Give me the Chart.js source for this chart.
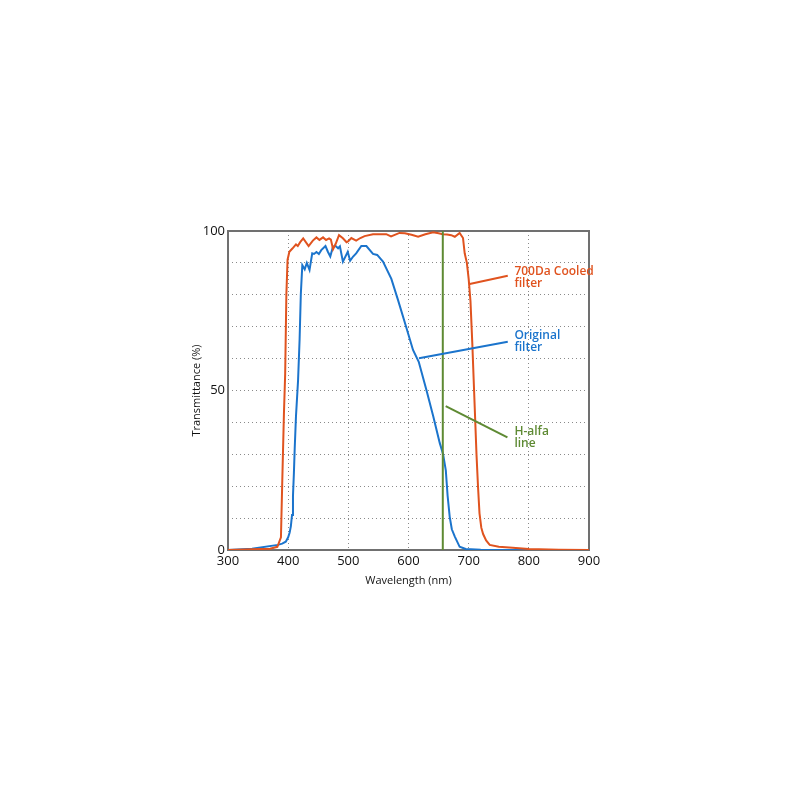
<!DOCTYPE html>
<html>
<head>
<meta charset="utf-8">
<title>Filter transmittance</title>
<script src="https://cdn.jsdelivr.net/npm/chart.js@4.4.1/dist/chart.umd.min.js"></script>
<style>
    body { margin: 0; background: #ffffff; overflow: hidden; }
    #wrap { width: 800px; height: 800px; }
</style>
</head>
<body>
<div id="wrap"><canvas id="filterChart" width="800" height="800"></canvas></div>
<script>
// Dados (nm, %)
const cooledNm = [300, 340, 370, 382, 388, 390, 393, 395, 397, 399, 402, 407, 413, 416, 420, 425, 434, 441, 447, 452,
    458, 463, 468, 471, 474.6, 479, 484.5, 491, 497, 500, 505, 513, 520, 527, 541, 555, 563, 571, 585, 594,
    605, 616, 628, 641, 650, 657, 664, 671, 677, 685, 690.6, 693.4, 697, 700, 703, 706, 709, 711, 713, 715.5,
    718, 721, 724, 729, 735, 750, 773, 800, 850, 900];
const cooledT = [0, 0.2, 0.4, 1, 4, 20, 43, 55, 80, 91, 93.5, 94.5, 95.8, 95.3, 96.5, 97.7, 95.3, 97, 98, 97.2,
    98, 97.2, 97.7, 97.3, 94.3, 96, 98.7, 97.7, 96.5, 96.8, 97.8, 97, 97.8, 98.4, 99, 99, 99, 98.3, 99.4, 99.3,
    98.8, 98.2, 99, 99.6, 99.3, 99, 98.9, 98.7, 98.2, 99.4, 97.8, 93, 90, 85, 78, 65, 50, 40, 30, 20,
    11.5, 7, 5, 3, 1.6, 1, 0.7, 0.3, 0.1, 0];

const originalNm = [300, 340, 383, 390, 396, 400, 402.5, 404.5, 406.4, 408, 409.5, 410.9, 413, 416.4, 419, 421, 423.5, 427.5, 431, 435.5, 440,
    443, 447, 451, 455, 462, 466, 470, 474.5, 479, 483, 486, 491, 499, 503, 508, 513, 521.6, 530, 541, 548,
    557.6, 571.5, 582.5, 596, 607.5, 617, 630, 641, 652, 657.5, 662, 665, 668.5, 672, 677, 685, 695, 720, 900];
const originalT = [0, 0.4, 1.6, 2, 2.6, 4, 5.5, 7.5, 11, 17, 24, 32, 42, 53, 66, 80, 89.3, 88, 90, 87.8, 93,
    92.8, 93.4, 92.8, 94, 95.3, 93.5, 92, 95.1, 95.3, 94.6, 95.2, 90.4, 93.5, 90.7, 92, 93, 95.3, 95.3, 92.8, 92.5,
    90.4, 85, 78.4, 70, 62.7, 59, 50, 42, 33.5, 30, 25, 17, 10.4, 6.5, 4.2, 1, 0.3, 0.1, 0];

const hAlphaNm = 657;
const yLabels = [0, 50, 100];

const orange = '#e0531f';
const blue = '#1b74cc';
const green = '#5e8a33';

// Rotulos com linha de chamada (pontos em coordenadas do grafico)
const notes = [
    { lines: ['700Da Cooled', 'filter'], color: orange, from: [701.7, 83.4], to: [765, 86], text: [776, 87.2] },
    { lines: ['Original', 'filter'], color: blue, from: [617.4, 60.1], to: [765, 65.3], text: [776, 67.1] },
    { lines: ['H-alfa', 'line'], color: green, from: [661.8, 45.1], to: [764.4, 35.3], text: [776, 37.1] }
];

const toPoints = (xs, ys) => xs.map((x, i) => ({ x: x, y: ys[i] }));

Chart.defaults.font.family = '"Open Sans", "DejaVu Sans", sans-serif';
Chart.defaults.color = '#111111';

// Moldura cinza em volta da area do grafico
const framePlugin = {
    id: 'frame',
    beforeDatasetsDraw(chart) {
        const { ctx, chartArea: a } = chart;
        ctx.save();
        ctx.strokeStyle = '#707070';
        ctx.lineWidth = 2;
        ctx.strokeRect(a.left, a.top, a.right - a.left, a.bottom - a.top);
        ctx.restore();
    }
};

// Linhas de chamada e textos
const notesPlugin = {
    id: 'notes',
    afterDatasetsDraw(chart) {
        const { ctx } = chart;
        const xs = chart.scales.x, ys = chart.scales.y;
        ctx.save();
        notes.forEach(n => {
            ctx.strokeStyle = n.color;
            ctx.lineWidth = 2;
            ctx.beginPath();
            ctx.moveTo(xs.getPixelForValue(n.from[0]), ys.getPixelForValue(n.from[1]));
            ctx.lineTo(xs.getPixelForValue(n.to[0]), ys.getPixelForValue(n.to[1]));
            ctx.stroke();
            ctx.fillStyle = n.color;
            ctx.font = '600 12px "Open Sans", "DejaVu Sans", sans-serif';
            ctx.textAlign = 'left';
            ctx.textBaseline = 'middle';
            const tx = xs.getPixelForValue(n.text[0]);
            const ty = ys.getPixelForValue(n.text[1]);
            n.lines.forEach((l, i) => ctx.fillText(l, tx, ty + i * 12));
        });
        ctx.restore();
    }
};

const ctx = document.getElementById('filterChart').getContext('2d');
const filterChart = new Chart(ctx, {
    type: 'line',
    data: {
        datasets: [{
            label: '700Da Cooled filter',
            data: toPoints(cooledNm, cooledT),
            borderColor: orange,
            borderWidth: 2,
            pointRadius: 0,
            tension: 0,
            order: 2
        }, {
            label: 'Original filter',
            data: toPoints(originalNm, originalT),
            borderColor: blue,
            borderWidth: 2,
            pointRadius: 0,
            tension: 0,
            order: 3
        }, {
            label: 'H-alfa line',
            data: [{ x: hAlphaNm, y: 0 }, { x: hAlphaNm, y: 100 }],
            borderColor: green,
            borderWidth: 2,
            pointRadius: 0,
            order: 1
        }]
    },
    options: {
        responsive: false,
        animation: false,
        layout: { padding: { left: 186, right: 211, top: 231, bottom: 209 } },
        plugins: {
            legend: { display: false },
            tooltip: { enabled: false }
        },
        scales: {
            x: {
                type: 'linear',
                min: 300,
                max: 900,
                afterFit(scale) { scale.height = 41; },
                ticks: { stepSize: 100, autoSkip: false, maxRotation: 0, padding: 3, font: { size: 13 } },
                grid: { color: '#8a8a8a', lineWidth: 1, drawTicks: false },
                border: { display: false, dash: [1, 3] },
                title: { display: true, text: 'Wavelength (nm)', font: { size: 11 }, padding: 4 }
            },
            y: {
                min: 0,
                max: 100,
                afterFit(scale) { scale.width = 42; },
                ticks: {
                    stepSize: 10,
                    padding: 3,
                    font: { size: 13 },
                    callback: v => yLabels.includes(v) ? v : ''
                },
                grid: { color: '#8a8a8a', lineWidth: 1, drawTicks: false },
                border: { display: false, dash: [1, 3] },
                title: { display: true, text: 'Transmittance (%)', font: { size: 11 }, padding: 4 }
            }
        }
    },
    plugins: [framePlugin, notesPlugin]
});
</script>
</body>
</html>
